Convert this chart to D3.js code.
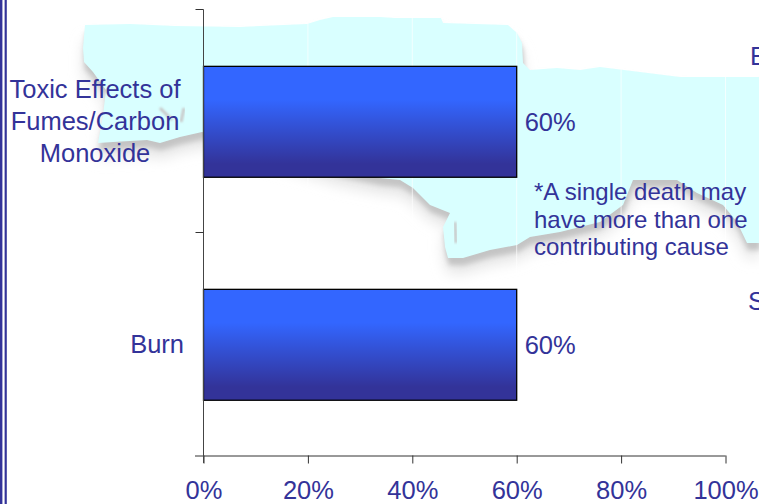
<!DOCTYPE html>
<html><head><meta charset="utf-8">
<script src="https://d3js.org/d3.v7.min.js"></script>
<style>html,body{margin:0;padding:0;background:#fff;overflow:hidden}svg{display:block}text{font-family:"Liberation Sans",Arial,sans-serif;fill:#333399}</style>
</head><body><svg id="c" width="759" height="504"></svg>
<script>
const categories = ["Toxic Effects of|Fumes/Carbon|Monoxide", "Burn"];
const values = [60, 60];
const xTicks = [0, 20, 40, 60, 80, 100];
const noteLines = ["*A single death may", "have more than one", "contributing cause"];
const clippedLabels = [["E", 750, 65], ["S", 748, 310]];
// decorative backdrop outline (map silhouette)
const backdrop = [[85,25],[130,24],[175,26],[240,27],[307,24],[320,20],[333,17],[380,17],[395,18],[441,18],[443,23],[508,25],[517,33],[522,43],[523,63],[530,70],[557,68],[580,70],[600,67],[640,72],[680,77],[759,77],[759,243],[747,243],[737,222],[723,205],[697,193],[677,180],[633,180],[623,205],[600,222],[560,232],[530,237],[517,245],[490,250],[463,258],[448,258],[445,247],[443,227],[450,213],[430,205],[413,188],[400,180],[380,178],[340,170],[270,150],[202,132],[180,137],[160,143],[147,140],[113,142],[98,143],[103,115],[106,90],[93,72],[84,62],[83,48]];
const riverMarks = [[[160,108],[172,120]],[[184,108],[181,122]],[[455,222],[456,243]]];

const svg = d3.select("#c");
const W = 759, H = 504;
const defs = svg.append("defs");
const grad = defs.append("linearGradient").attr("id","barFill").attr("x1",0).attr("x2",0).attr("y1",0).attr("y2",1);
[[0,"#3366ff"],[0.3,"#3366ff"],[0.88,"#333399"],[1,"#333399"]].forEach(s=>grad.append("stop").attr("offset",s[0]).attr("stop-color",s[1]));
[["blurWide",7],["blurNear",2.4],["blurMark",1]].forEach(b=>defs.append("filter").attr("id",b[0]).attr("x","-20%").attr("y","-20%").attr("width","140%").attr("height","140%")
  .append("feGaussianBlur").attr("stdDeviation",b[1]));

const x = d3.scaleLinear().domain([0,100]).range([203.5,725.5]);
const y = d3.scaleBand().domain(categories).range([10,456]).paddingInner(0.5).paddingOuter(0.25);
const line = d3.line();

svg.append("rect").attr("x",0).attr("y",0).attr("width",2.4).attr("height",H).attr("fill","#333399");
svg.append("rect").attr("x",4.6).attr("y",0).attr("width",2.2).attr("height",H).attr("fill","#333399");

svg.append("path").attr("d",line(backdrop)+"Z").attr("transform","translate(0,15)").attr("fill","#e4e4e4").attr("filter","url(#blurWide)");
svg.append("path").attr("d",line(backdrop)+"Z").attr("transform","translate(1,7)").attr("fill","#c4c4c4").attr("filter","url(#blurNear)");
svg.append("path").attr("d",line(backdrop)+"Z").attr("fill","#d9ffff");
svg.append("g").selectAll("path").data(riverMarks).join("path").attr("d",d=>line(d))
  .attr("stroke","#c8c8c8").attr("stroke-width",3).attr("fill","none").attr("filter","url(#blurMark)");

svg.append("g").selectAll("line").data(xTicks.slice(1)).join("line")
  .attr("x1",d=>x(d)).attr("x2",d=>x(d)).attr("y1",10).attr("y2",456)
  .attr("stroke","#fff").attr("stroke-width",0.8).attr("stroke-opacity",0.85);

svg.append("g").selectAll("rect").data(categories).join("rect")
  .attr("x",x(0)).attr("y",c=>y(c)+0.6).attr("width",(c,i)=>x(values[i])-x(0)).attr("height",y.bandwidth()-0.6)
  .attr("fill","url(#barFill)").attr("stroke","#000").attr("stroke-width",1.3);

const gx = svg.append("g").attr("transform","translate(0,455.5)")
  .call(d3.axisBottom(x).tickValues(xTicks).tickFormat(d=>d+"%").tickSize(8).tickPadding(27));
gx.select(".domain").attr("d","M195,0.5H725.5").attr("stroke","#333");
gx.selectAll("line").attr("stroke","#333");
gx.selectAll("text").attr("font-size",25.5).attr("fill","#333399").attr("dy","0.32em");

const gy = svg.append("g").attr("transform","translate(203.5,0)")
  .call(d3.axisLeft(y).tickValues([]).tickSize(0));
gy.select(".domain").attr("d","M0,9.5V463").attr("stroke","#444");
gy.selectAll(".yt").data([y.range()[0],(y.range()[0]+y.range()[1])/2]).join("line").attr("class","yt")
  .attr("x1",-8).attr("x2",0).attr("y1",d=>d-0.5).attr("y2",d=>d-0.5).attr("stroke","#333");

categories.forEach((c,i)=>{
  const ls = c.split("|"), cy = y(c)+y.bandwidth()/2;
  ls.forEach((t,j)=>svg.append("text").text(t).attr("x",ls.length>1?95:184).attr("y",cy+(j-(ls.length-1)/2)*32+8)
    .attr("text-anchor",ls.length>1?"middle":"end").attr("font-size",25.5));
  svg.append("text").text(values[i]+"%").attr("x",x(values[i])+8).attr("y",cy+9).attr("font-size",25.5);
});
noteLines.forEach((t,i)=>svg.append("text").text(t).attr("x",534).attr("y",200+i*27.7).attr("font-size",24));
clippedLabels.forEach(d=>svg.append("text").text(d[0]).attr("x",d[1]).attr("y",d[2]).attr("font-size",25.5));
</script></body></html>
